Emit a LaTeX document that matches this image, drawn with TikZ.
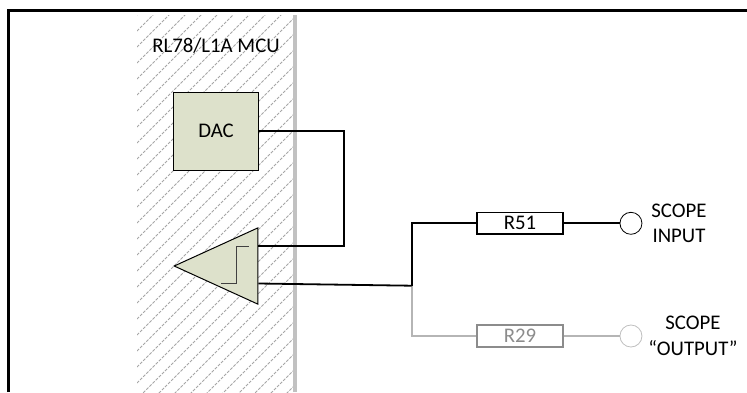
\documentclass[tikz,border=0pt]{standalone}
\usepackage{fontspec}
\setmainfont{Carlito}
\usetikzlibrary{positioning,shapes.geometric}
\definecolor{blockfill}{HTML}{DDE1CB}
\definecolor{hatchgray}{HTML}{A6A6A6}
\definecolor{dimtext}{HTML}{8C8C8C}
\definecolor{dimwire}{HTML}{B5B5B5}

\begin{document}
\begin{tikzpicture}[x=1pt,y=-1pt,
  lbl/.style={font=\fontsize{20.8}{25.4}\selectfont,align=center,inner sep=0pt},
  block/.style={draw=black,line width=1pt,fill=blockfill,inner sep=0pt},
  res/.style={lbl,draw,line width=1.6pt,minimum width=85.5pt,minimum height=21.5pt},
  port/.style={circle,draw,line width=0.8pt,minimum size=22pt,inner sep=0pt},
  wire/.style={line width=1.8pt},
  dim/.style={dimwire,line width=1.7pt}
]
\useasboundingbox (0,0) rectangle (747,392);

% frame, open on the right and at the bottom
\draw[line width=3pt] (8.5,392) -- (8.5,10.5) -- (747,10.5);

% MCU area
\begin{scope}
  \clip (137,15) rectangle (294,392);
  \foreach \i in {0,...,34}
    \draw[hatchgray,line width=1pt,dash pattern=on 3pt off 1.4pt] (137,15+16*\i) -- ++(158,-158);
\end{scope}
\draw[hatchgray!70,line width=3.6pt] (295,15) -- (295,392);
\node[lbl] (mcu) at (216,46) {RL78/L1A MCU};

% blocks
\node[block,lbl,minimum width=84.5pt,minimum height=78pt] (dac) at (216,131) {DAC};
\node[block,isosceles triangle,isosceles triangle apex angle=49,shape border rotate=180,
  minimum height=83.6pt,anchor=lower side] (cmp) at (258.3,266) {};

% step symbol
\draw[line width=1pt,black!75] (221,283.3) -- (236.7,283.3) -- (236.7,246) -- (249,246);

% resistors and scope points
\node[res,draw=dimtext,text=dimtext] (r29) at (520,336) {R29};
\node[port,draw=black!25,right=56pt of r29] (outp) {};
\node[res] (r51) at (520,223.3) {R51};
\node[port,right=56pt of r51] (inp) {};
\node[lbl] (inlbl) at (679,223.5) {SCOPE\\INPUT};
\node[lbl] (outlbl) at (693,336) {SCOPE\\``OUTPUT''};
\coordinate (branch) at (411.7,285.7);

% wires
\draw[dim] (branch) |- (r29.west);
\draw[dim] (r29) -- (outp);
\draw[wire] (dac.east) -- ++(85,0) |- ([yshift=20pt]cmp.lower side);
\draw[wire] ([yshift=-17.5pt]cmp.lower side) -- (branch);
\draw[wire] (branch) |- (r51.west);
\draw[wire] (r51) -- (inp);
\end{tikzpicture}
\end{document}
